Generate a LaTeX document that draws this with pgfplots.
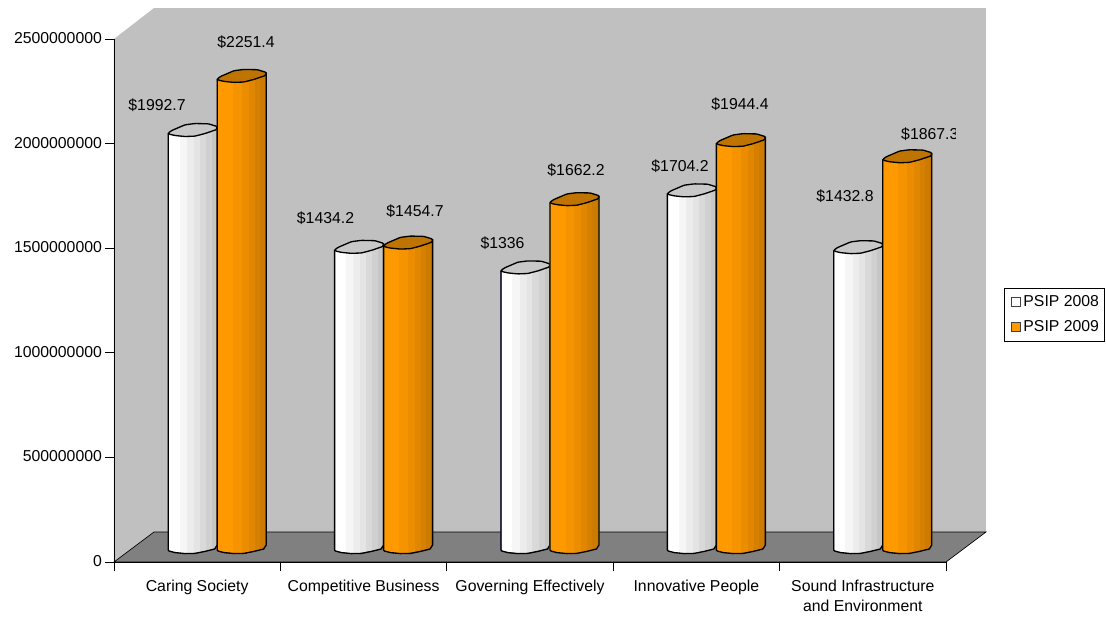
\documentclass[border=0pt]{standalone}
\usepackage{fontspec}
\setmainfont{Liberation Sans}
\usepackage{pgfplots}
\usepackage{pgfplotstable}
\pgfplotsset{compat=1.18}

\newcommand{\chartfont}{\fontsize{11.85pt}{15pt}\selectfont}

% values in millions, shown as full numbers on the axis
\pgfplotstableread{
x   psip08 psip09 lab08  lab09  dx08   dy08 dx09 dy09
0.5 1992.7 2251.4 1992.7 2251.4 -60.2  28.1 28.8 36.3
1.5 1434.2 1454.7 1434.2 1454.7 -58.1  32.0 31.4 34.7
2.5 1336   1662.2 1336   1662.2 -47.5  27.5 26.0 32.3
3.5 1704.2 1944.4 1704.2 1944.4 -36.4  27.5 23.6 39.2
4.5 1432.8 1867.3 1432.8 1867.3 -37.8  54.3 47.0 25.4
}\budget

\definecolor{wA}{RGB}{255,255,255}
\definecolor{wB}{RGB}{246,246,246}
\definecolor{wC}{RGB}{236,236,236}
\definecolor{wD}{RGB}{228,228,228}
\definecolor{wE}{RGB}{217,217,217}
\definecolor{wF}{RGB}{208,208,208}
\definecolor{wG}{RGB}{198,198,198}
\definecolor{oA}{RGB}{255,153,0}
\definecolor{oB}{RGB}{245,147,0}
\definecolor{oC}{RGB}{236,141,0}
\definecolor{oD}{RGB}{224,134,0}
\definecolor{oE}{RGB}{213,128,0}
\definecolor{oF}{RGB}{204,122,0}
\definecolor{oG}{RGB}{194,116,0}

% bands of the cylinder sides
\pgfdeclarehorizontalshading{cylwhite}{100bp}{
  color(0bp)=(wA); color(36.2bp)=(wA);
  color(36.21bp)=(wB); color(43.8bp)=(wB);
  color(43.81bp)=(wC); color(50.5bp)=(wC);
  color(50.51bp)=(wD); color(56.5bp)=(wD);
  color(56.51bp)=(wE); color(63bp)=(wE);
  color(63.01bp)=(wF); color(69bp)=(wF);
  color(69.01bp)=(wG); color(100bp)=(wG)}
\pgfdeclarehorizontalshading{cylorange}{100bp}{
  color(0bp)=(oA); color(40.3bp)=(oA);
  color(40.31bp)=(oB); color(49.5bp)=(oB);
  color(49.51bp)=(oC); color(56.6bp)=(oC);
  color(56.61bp)=(oD); color(62.7bp)=(oD);
  color(62.71bp)=(oE); color(67.8bp)=(oE);
  color(67.81bp)=(oF); color(72.9bp)=(oF);
  color(72.91bp)=(oG); color(100bp)=(oG)}

\definecolor{wallgray}{RGB}{192,192,192}
\definecolor{floorgray}{RGB}{128,128,128}
\definecolor{capwhite}{RGB}{200,200,200}
\definecolor{caporange}{RGB}{191,115,0}
\definecolor{orange09}{RGB}{255,153,0}

% one cylinder, the mark sits on the left edge of the top; \val is the value
\newcommand{\cylinder}[2]{%
  \begin{scope}[x=0.75pt,y=0.75pt,line join=round]
    \pgfmathsetmacro{\hh}{\val*0.2092}
    \path[shading=#1] (-24.5,0) -- (-24.5,-\hh) -- (-23.7,-\hh-1) -- (-17.7,-\hh-2.6)
      -- (-7.7,-\hh-3.6) -- (2.3,-\hh-3.4) -- (12.3,-\hh-1.4) -- (22,-\hh+1) -- (24.5,-\hh+5)
      -- (24.5,6.6) -- cycle;
    \draw[black,line width=1pt] (-24.5,0) -- (-24.5,-\hh) -- (-23.7,-\hh-1) -- (-17.7,-\hh-2.6)
      -- (-7.7,-\hh-3.6) -- (2.3,-\hh-3.4) -- (12.3,-\hh-1.4) -- (22,-\hh+1) -- (24.5,-\hh+5)
      -- (24.5,6.6);
    \draw[black,fill=#2,line width=1pt,rounded corners=0.8pt] (-24.5,0) -- (-21,2.6) -- (-7.7,8.3) -- (2.3,9.6)
      -- (15.7,9.3) -- (24.5,6.6) -- (24,3.6) -- (12.3,-0.4) -- (2.3,-3) -- (-7.7,-3.4)
      -- (-17.7,-2.4) -- (-23.7,-1) -- cycle;
  \end{scope}}
\pgfdeclareplotmark{cyl08}{\cylinder{cylwhite}{capwhite}}
\pgfdeclareplotmark{cyl09}{\cylinder{cylorange}{caporange}}

\begin{document}
\begin{tikzpicture}
\path[use as bounding box] (0,0) rectangle (829.5pt,463.5pt);

% frame: walls, floor and the axes
\begin{axis}[
    at={(85.5pt,42pt)},
    scale only axis, width=624pt, height=392.25pt,
    xmin=0, xmax=5, ymin=0, ymax=2500,
    clip=false, axis on top,
    axis x line*=bottom, axis y line*=left,
    axis line style={-, black, line width=0.6pt},
    tick style={black, line width=0.6pt},
    tick align=outside, major tick length=6.75pt,
    xtick={0,1,2,3,4,5},
    x tick label as interval,
    xticklabels={Caring Society,Competitive Business,Governing Effectively,Innovative People,{Sound Infrastructure\\and Environment}},
    x tick label style={align=center, font=\chartfont, yshift=-3pt},
    ytick={0,500,1000,1500,2000,2500},
    yticklabels={0,500000000,1000000000,1500000000,2000000000,2500000000},
    y tick label style={font=\chartfont, xshift=1.2pt, yshift=0.7pt},
]
\addplot[fill=wallgray, draw=none, forget plot] coordinates {(0,0) (0,2500) (0.2404,2648.2) (0.2404,143.4)} --cycle;
\addplot[fill=wallgray, draw=none, forget plot] coordinates {(0.2404,143.4) (0.2404,2648.2) (5.2404,2648.2) (5.2404,143.4)} --cycle;
\addplot[fill=floorgray, draw=black, line width=0.5pt, forget plot] coordinates {(0,0) (5,0) (5.2404,143.4) (0.2404,143.4)} --cycle;
\end{axis}

% cylinders and their labels, set back half the depth of the floor
\begin{axis}[
    at={(85.5pt,43.5pt)},
    scale only axis, width=630.75pt, height=414pt,
    xmin=-0.1202, xmax=4.934, ymin=-47.8, ymax=2590.8,
    hide axis,
    clip=true, clip mode=global, clip marker paths=true,
    every node near coord/.style={font=\chartfont, text=black, anchor=center,
      xshift=\ldx*0.75pt, yshift=\ldy*0.75pt, inner sep=0pt},
    legend style={at={(1.0583,0.4928)}, anchor=north west, draw=black, fill=white,
      line width=0.6pt, font=\chartfont, inner xsep=2pt, inner ysep=3.5pt,
      row sep=5pt, /tikz/every even column/.append style={column sep=0pt}},
    legend cell align=left,
]
\addplot[scatter, only marks, mark=cyl08, forget plot,
    visualization depends on={\thisrow{psip08} \as \val}]
    table[x expr=\thisrow{x}-0.1472, y=psip08] {\budget};
\addplot[scatter, only marks, mark=cyl09, forget plot,
    visualization depends on={\thisrow{psip09} \as \val}]
    table[x expr=\thisrow{x}+0.1472, y=psip09] {\budget};

\addplot[draw=none, mark=none, forget plot, point meta=explicit symbolic,
    visualization depends on={\thisrow{dx08} \as \ldx},
    visualization depends on={\thisrow{dy08} \as \ldy},
    nodes near coords={\$\pgfplotspointmeta}]
    table[x=x, y=psip08, meta=lab08] {\budget};
\addplot[draw=none, mark=none, forget plot, point meta=explicit symbolic,
    visualization depends on={\thisrow{dx09} \as \ldx},
    visualization depends on={\thisrow{dy09} \as \ldy},
    nodes near coords={\$\pgfplotspointmeta}]
    table[x=x, y=psip09, meta=lab09] {\budget};

\addlegendimage{legend image code/.code={\path[draw=none] (0pt,0pt) -- (9.8pt,0pt); \draw[black!75,fill=white,line width=0.9pt] (3pt,-3.4pt) rectangle (9.8pt,3.4pt);}}
\addlegendentry{PSIP 2008}
\addlegendimage{legend image code/.code={\path[draw=none] (0pt,0pt) -- (9.8pt,0pt); \draw[black!75,fill=orange09,line width=0.9pt] (3pt,-3.4pt) rectangle (9.8pt,3.4pt);}}
\addlegendentry{PSIP 2009}
\end{axis}
\end{tikzpicture}
\end{document}
